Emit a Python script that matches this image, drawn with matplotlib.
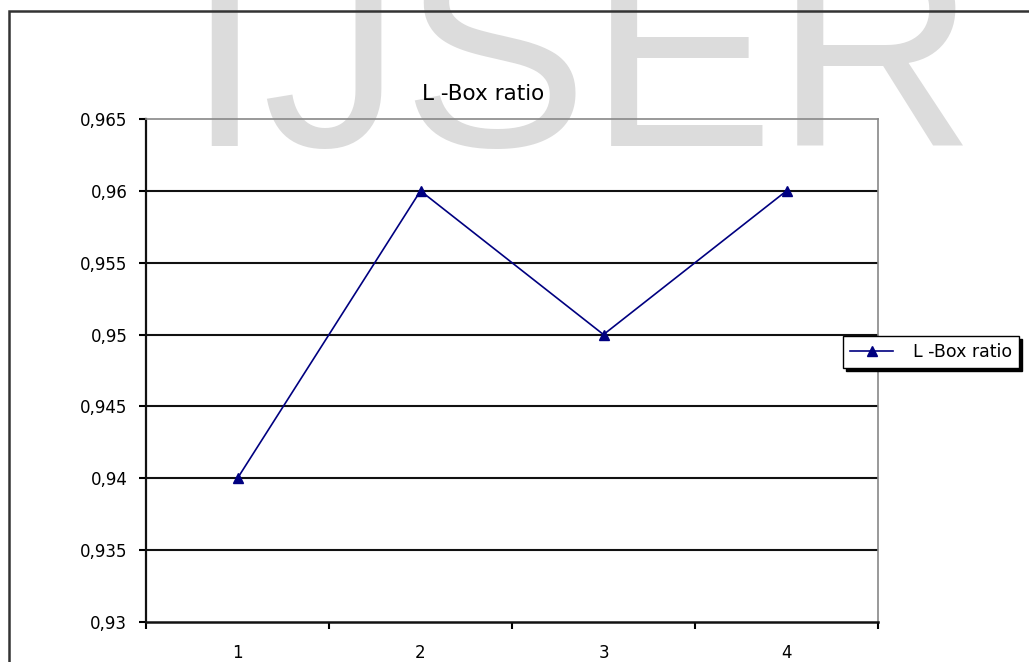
import matplotlib.pyplot as plt
from matplotlib.patches import Rectangle

# datos del grafico
categorias = ['1', '2', '3', '4']
valores = [0.94, 0.96, 0.95, 0.96]
ticks_y = [0.93, 0.935, 0.94, 0.945, 0.95, 0.955, 0.96, 0.965]
etiquetas_y = ['0,93', '0,935', '0,94', '0,945', '0,95', '0,955', '0,96', '0,965']
serie = 'L -Box ratio'

W, H = 1029, 662
fig = plt.figure(figsize=(W / 100, H / 100), dpi=100)

# marca de agua de fondo
fig.text(185 / W, 1 - 146 / H, 'IJSER', fontsize=201, color='#dcdcdc',
         family='Liberation Sans', ha='left', va='baseline', zorder=-5)

# borde exterior del grafico (recortado a la derecha y abajo)
fig.patches.append(Rectangle((8.5 / W, -0.2), 1.5, 1 - 11 / H + 0.2,
                             transform=fig.transFigure, fill=False,
                             edgecolor='#333333', lw=1.8, zorder=1))

ax = fig.add_axes([146 / W, 1 - 622 / H, 732 / W, 503 / H])
ax.set_facecolor('none')

x = list(range(len(categorias)))
ax.plot(x, valores, color='#000080', lw=1.2, marker='^', markersize=7.5,
        label=serie, zorder=3)

ax.set_ylim(ticks_y[0], ticks_y[-1])
ax.set_yticks(ticks_y)
ax.set_yticklabels(etiquetas_y)
for t in ticks_y[1:-1]:
    ax.axhline(t, color='#111111', lw=1.5, zorder=2)

ax.set_xlim(-0.5, len(categorias) - 0.5)
ax.set_xticks([i - 0.5 for i in range(len(categorias) + 1)])
ax.set_xticklabels([])
ax.set_xticks(x, minor=True)
ax.set_xticklabels(categorias, minor=True)
ax.tick_params(axis='x', which='minor', length=0, pad=16, labelsize=12)
ax.tick_params(axis='x', which='major', direction='out', length=5, width=1.5)
ax.tick_params(axis='y', direction='out', length=5, width=1.5, pad=8.5, labelsize=12)

ax.spines['left'].set_linewidth(1.6)
ax.spines['bottom'].set_linewidth(1.8)
ax.spines['left'].set_color('#111111')
ax.spines['bottom'].set_color('#111111')
ax.spines['top'].set_color('#888888')
ax.spines['right'].set_color('#888888')
ax.spines['top'].set_linewidth(1.2)
ax.spines['right'].set_linewidth(1.2)

ax.set_title(serie, fontsize=15.5, pad=14, x=(483 - 146) / 732)

leg = ax.legend(loc='center left', bbox_to_anchor=(843 / W, 1 - 352 / H),
                bbox_transform=fig.transFigure, fancybox=False,
                shadow={'color': 'black', 'alpha': 1}, edgecolor='black',
                fontsize=12.5, numpoints=1, handlelength=2.5, borderpad=0.4,
                handletextpad=1.15, borderaxespad=0)
leg.get_frame().set_linewidth(1.0)

fig.savefig('out.png', dpi=100)
